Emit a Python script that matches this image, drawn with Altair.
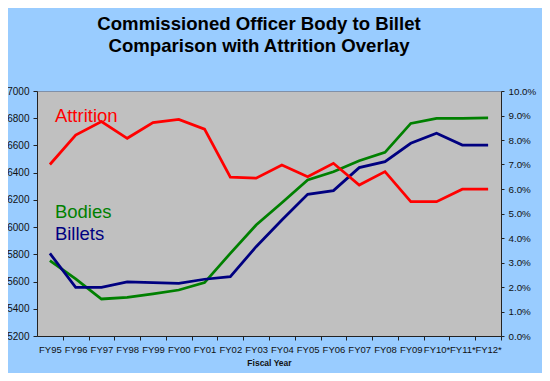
import altair as alt
import pandas as pd

cats = ["FY95", "FY96", "FY97", "FY98", "FY99", "FY00", "FY01", "FY02", "FY03",
        "FY04", "FY05", "FY06", "FY07", "FY08", "FY09", "FY10*", "FY11*", "FY12*"]
bodies = [5753, 5620, 5472, 5484, 5509, 5538, 5592, 5807, 6015, 6179, 6346, 6407,
          6488, 6549, 6762, 6799, 6799, 6802]
billets = [5807, 5558, 5558, 5597, 5592, 5587, 5617, 5636, 5856, 6052, 6241, 6268,
           6437, 6481, 6616, 6689, 6603, 6603]
attrition_pct = [7.0, 8.2, 8.75, 8.07, 8.71, 8.84, 8.44, 6.48, 6.44, 6.98, 6.5, 7.05,
                 6.16, 6.71, 5.48, 5.48, 5.99, 5.99]

label_text = ["Attrition", "Bodies", "Billets"]
label_value = [6816, 6111, 5949]
label_color = ["#FF0000", "#008000", "#000080"]

FONT = "Liberation Sans"
W = 464
H = 245
half_step = W / len(cats) / 2

left_df = pd.DataFrame({
    "cat": cats * 2,
    "value": bodies + billets,
    "series": ["Bodies"] * len(cats) + ["Billets"] * len(cats),
})
attr_df = pd.DataFrame({"cat": cats, "attr": [v / 100 for v in attrition_pct]})
lab_df = pd.DataFrame({"cat": ["FY95"] * 3, "value": label_value,
                       "text": label_text, "color": label_color})

x_enc = alt.X("cat:N", sort=cats, title="Fiscal Year",
              scale=alt.Scale(type="point", domain=cats, padding=0.5),
              axis=alt.Axis(labelAngle=0, labelOverlap=False, tickOffset=half_step,
                            labelOffset=-half_step, tickSize=4, labelPadding=4,
                            labelFontSize=9.5, labelFont=FONT, labelColor="#111",
                            titleFont=FONT, titleFontSize=8.5, titleFontWeight="bold",
                            titleColor="#111", titlePadding=5,
                            domainColor="#222", tickColor="#222", grid=False))

left_axis = alt.Axis(values=list(range(5200, 7001, 200)), tickSize=4, labelPadding=4,
                     labelFontSize=10, labelFont=FONT, labelColor="#111",
                     domainColor="#222", tickColor="#222", grid=False, format="d")
y_left = alt.Y("value:Q", title=None, axis=left_axis,
               scale=alt.Scale(domain=[5200, 7000], nice=False, zero=False))

lines = alt.Chart(left_df).mark_line(strokeWidth=2.75).encode(
    x=x_enc,
    y=y_left,
    color=alt.Color("series:N", scale=alt.Scale(domain=["Bodies", "Billets"],
                                               range=["#008000", "#000080"]),
                    legend=None),
)

labels = alt.Chart(lab_df).mark_text(align="left", baseline="middle", dx=5,
                                     fontSize=18.5, font=FONT).encode(
    x=x_enc,
    y=y_left,
    text="text:N",
    color=alt.Color("color:N", scale=None),
)

attr = alt.Chart(attr_df).mark_line(strokeWidth=2.75, color="#FF0000").encode(
    x=x_enc,
    y=alt.Y("attr:Q", title=None,
            scale=alt.Scale(domain=[0, 0.1], nice=False),
            axis=alt.Axis(orient="right", format=".1%",
                          values=[i / 100 for i in range(0, 11)],
                          tickSize=3, labelPadding=4, labelFontSize=9.8,
                          labelFont=FONT, labelColor="#111",
                          domainColor="#222", tickColor="#222", grid=False)),
)

chart = alt.layer(alt.layer(lines, labels), attr).resolve_scale(
    y="independent"
).properties(
    width=W,
    height=H,
    padding={"left": 29, "top": 83, "right": 534 - 29 - W, "bottom": 37},
    autosize=alt.AutoSizeParams(type="none"),
    background="#99CCFF",
    title=alt.TitleParams(
        text=["Commissioned Officer Body to Billet", "Comparison with Attrition Overlay"],
        font=FONT, fontSize=18.6, fontWeight="bold", color="#000",
        anchor="middle", dx=-10, offset=30, lineHeight=22,
    ),
).configure_view(
    fill="#C0C0C0", stroke="#8090A8", strokeWidth=1
)

chart.save("out.html", embed_options={"renderer": "svg", "actions": False})
